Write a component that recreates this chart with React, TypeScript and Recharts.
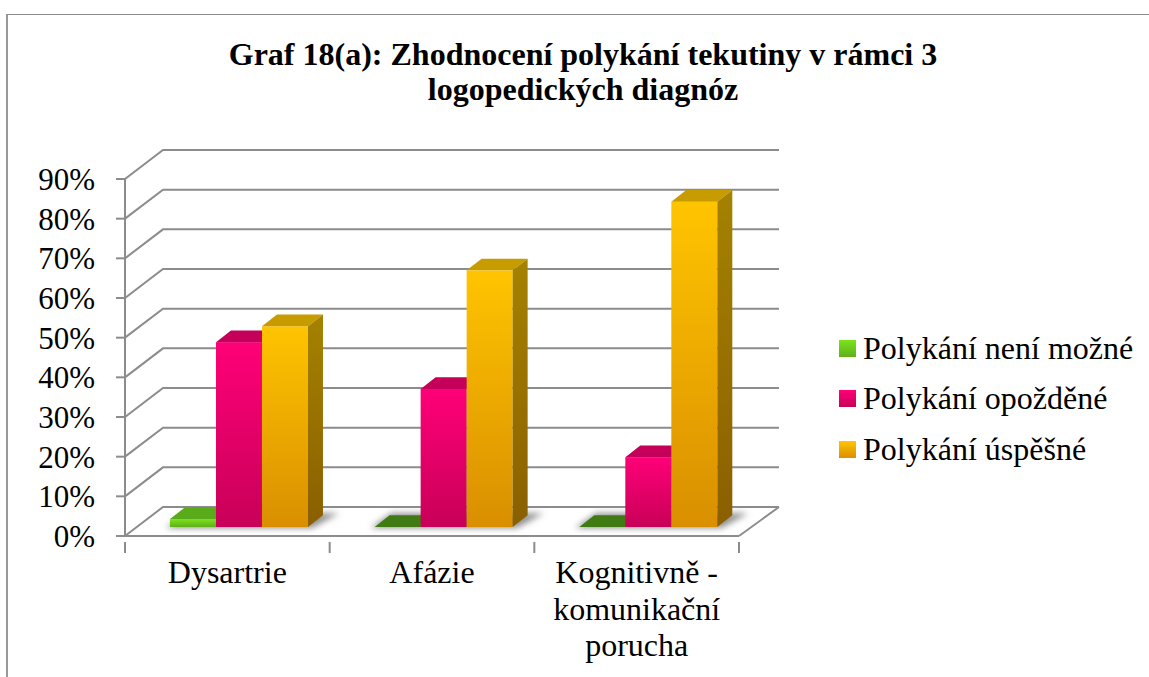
import React from "react";
import { BarChart, Bar, XAxis, YAxis, CartesianGrid, Legend } from "recharts";

const categories = ["Dysartrie", "Afázie", "Kognitivně -\nkomunikační\nporucha"];
const notPossible = [2, 0, 0];
const delayed = [46.6, 34.8, 17.6];
const successful = [50.6, 64.7, 82];
const seriesNames = ["Polykání není možné", "Polykání opožděné", "Polykání úspěšné"];
const yTicks = [0, 10, 20, 30, 40, 50, 60, 70, 80, 90];
const titleLines = ["Graf 18(a): Zhodnocení polykání tekutiny v rámci 3", "logopedických diagnóz"];

const data = categories.map((name, i) => ({
  name,
  notPossible: notPossible[i],
  delayed: delayed[i],
  successful: successful[i],
}));

const FONT = '"Liberation Serif", "Times New Roman", serif';
const GRID = "#8c8c8c";
const ids = ["green", "pink", "orange"];
const faces = [
  { from: "#7ce31d", to: "#5fae19", top: "#5aab1a", zero: "#3f7a12", sideFrom: "#4f9a15", sideTo: "#3f7a12" },
  { from: "#ff0078", to: "#c80058", top: "#c4005a", zero: "#c4005a", sideFrom: "#b00050", sideTo: "#8a0040" },
  { from: "#ffc400", to: "#d98f00", top: "#c79c00", zero: "#c79c00", sideFrom: "#a58200", sideTo: "#8a5f00" },
];

const PLOT_SHIFT_X = 11;
const PLOT_SHIFT_Y = 9;
const DEPTH_X = 15;
const DEPTH_Y = 11.7;

function make3D(series: number) {
  return function Shape3D(props: any) {
    const w = props.width;
    const h = props.height || 0;
    const x = props.x + PLOT_SHIFT_X;
    const y = props.y - PLOT_SHIFT_Y;
    const f = faces[series];
    return (
      <g>
        {series === 0 && (
          <polygon
            points={`${x - 4},${y + h + 1} ${x + DEPTH_X + 2},${y + h - DEPTH_Y - 2} ${x + 3 * w + DEPTH_X + 16},${y + h - DEPTH_Y - 2} ${x + 3 * w + 4},${y + h + 1}`}
            fill="#8f8f8f"
            filter="url(#floorShadow)"
          />
        )}
        {h > 0 && <rect x={x} y={y} width={w} height={h} fill={`url(#front-${ids[series]})`} />}
        <polygon
          points={`${x},${y} ${x + DEPTH_X},${y - DEPTH_Y} ${x + w + DEPTH_X},${y - DEPTH_Y} ${x + w},${y}`}
          fill={h > 0 ? f.top : f.zero}
        />
        <polygon
          points={`${x + w},${y} ${x + w + DEPTH_X},${y - DEPTH_Y} ${x + w + DEPTH_X},${y + h - DEPTH_Y} ${x + w},${y + h}`}
          fill={`url(#side-${ids[series]})`}
        />
      </g>
    );
  };
}

function gridLine(props: any) {
  const { x1, x2, y1 } = props;
  const isFloor = Math.abs(y1 - 536) < 2;
  const points = `${x1},${y1} ${x1 + 38},${y1 - 29} ${x2 + 40},${y1 - 29}`;
  return (
    <g key={`grid-${y1}`}>
      <polyline points={points} fill="none" stroke={GRID} strokeWidth={2} />
      {isFloor && <line x1={x2} y1={y1} x2={x2 + 40} y2={y1 - 29} stroke={GRID} strokeWidth={2} />}
    </g>
  );
}

function CategoryTick(props: any) {
  const { x, y, payload, index, visibleTicksCount } = props;
  const half = 614 / categories.length / 2;
  const lines = String(payload.value).split("\n");
  return (
    <g>
      <line x1={x - half} y1={y - 2} x2={x - half} y2={y + 9} stroke={GRID} strokeWidth={2} />
      {index === visibleTicksCount - 1 && (
        <line x1={x + half} y1={y - 2} x2={x + half} y2={y + 9} stroke={GRID} strokeWidth={2} />
      )}
      <text textAnchor="middle" fontFamily={FONT} fontSize={32} fill="#000">
        {lines.map((l, i) => (
          <tspan key={i} x={x} y={y + 39 + i * 36.5}>
            {l}
          </tspan>
        ))}
      </text>
    </g>
  );
}

function LegendBox(props: any) {
  const payload = props.payload || [];
  return (
    <div style={{ fontFamily: FONT, fontSize: 32, color: "#000", width: 310, height: 152, position: "relative" }}>
      {payload.map((p: any, i: number) => (
        <div key={i} style={{ position: "absolute", left: 0, top: i * 50.5, height: 50, display: "flex", alignItems: "center", whiteSpace: "nowrap" }}>
          <span
            style={{
              display: "inline-block",
              width: 17,
              height: 17,
              marginRight: 7,
              background: `linear-gradient(${faces[i].from}, ${faces[i].to})`,
            }}
          />
          {p.value}
        </div>
      ))}
    </div>
  );
}

export default function App() {
  return (
    <div style={{ position: "absolute", left: 0, top: 0, width: 1149, height: 677, background: "#fff", overflow: "hidden" }}>
      <div style={{ position: "absolute", left: 6, top: 14, width: 1143, height: 663, borderTop: "1.5px solid #8a8a8a", borderLeft: "2.5px solid #999" }} />
      <div style={{ position: "absolute", left: 0, top: 37, width: 1166, textAlign: "center", fontFamily: FONT, fontWeight: "bold", fontSize: 32, lineHeight: "35px", color: "#000" }}>
        {titleLines.map((t) => (
          <div key={t}>{t}</div>
        ))}
      </div>
      <div style={{ position: "absolute", left: 0, top: 0 }}>
        <BarChart
          width={1149}
          height={677}
          data={data}
          margin={{ top: 179, right: 100, bottom: 0, left: 0 }}
          barCategoryGap="16.6%"
          barGap={0}
        >
          <defs>
            {faces.map((f, i) => (
              <linearGradient key={i} id={`front-${ids[i]}`} x1="0" y1="0" x2="0" y2="1">
                <stop offset="0%" stopColor={f.from} />
                <stop offset="100%" stopColor={f.to} />
              </linearGradient>
            ))}
            {faces.map((f, i) => (
              <linearGradient key={i} id={`side-${ids[i]}`} x1="0" y1="0" x2="0" y2="1">
                <stop offset="0%" stopColor={f.sideFrom} />
                <stop offset="100%" stopColor={f.sideTo} />
              </linearGradient>
            ))}
            <filter id="floorShadow" x="-20%" y="-60%" width="140%" height="220%">
              <feGaussianBlur stdDeviation="3" />
            </filter>
          </defs>
          <CartesianGrid horizontal={gridLine} vertical={false} />
          <XAxis
            dataKey="name"
            interval={0}
            height={141}
            axisLine={{ stroke: GRID, strokeWidth: 2 }}
            tickLine={false}
            tick={<CategoryTick />}
          />
          <YAxis
            width={125}
            domain={[0, 90]}
            ticks={yTicks}
            interval={0}
            tickFormatter={(v: number) => `${v}%`}
            axisLine={{ stroke: GRID, strokeWidth: 2 }}
            tickLine={{ stroke: GRID, strokeWidth: 2 }}
            tickSize={9}
            tickMargin={21}
            tick={{ fontFamily: FONT, fontSize: 31, fill: "#000" }}
          />
          <Bar dataKey="notPossible" name={seriesNames[0]} fill={faces[0].from} isAnimationActive={false} shape={make3D(0)} />
          <Bar dataKey="delayed" name={seriesNames[1]} fill={faces[1].from} isAnimationActive={false} shape={make3D(1)} />
          <Bar dataKey="successful" name={seriesNames[2]} fill={faces[2].from} isAnimationActive={false} shape={make3D(2)} />
          <Legend
            layout="vertical"
            align="right"
            verticalAlign="top"
            width={310}
            content={<LegendBox />}
            wrapperStyle={{ left: 839, top: 323, right: "auto", bottom: "auto" }}
          />
        </BarChart>
      </div>
    </div>
  );
}
